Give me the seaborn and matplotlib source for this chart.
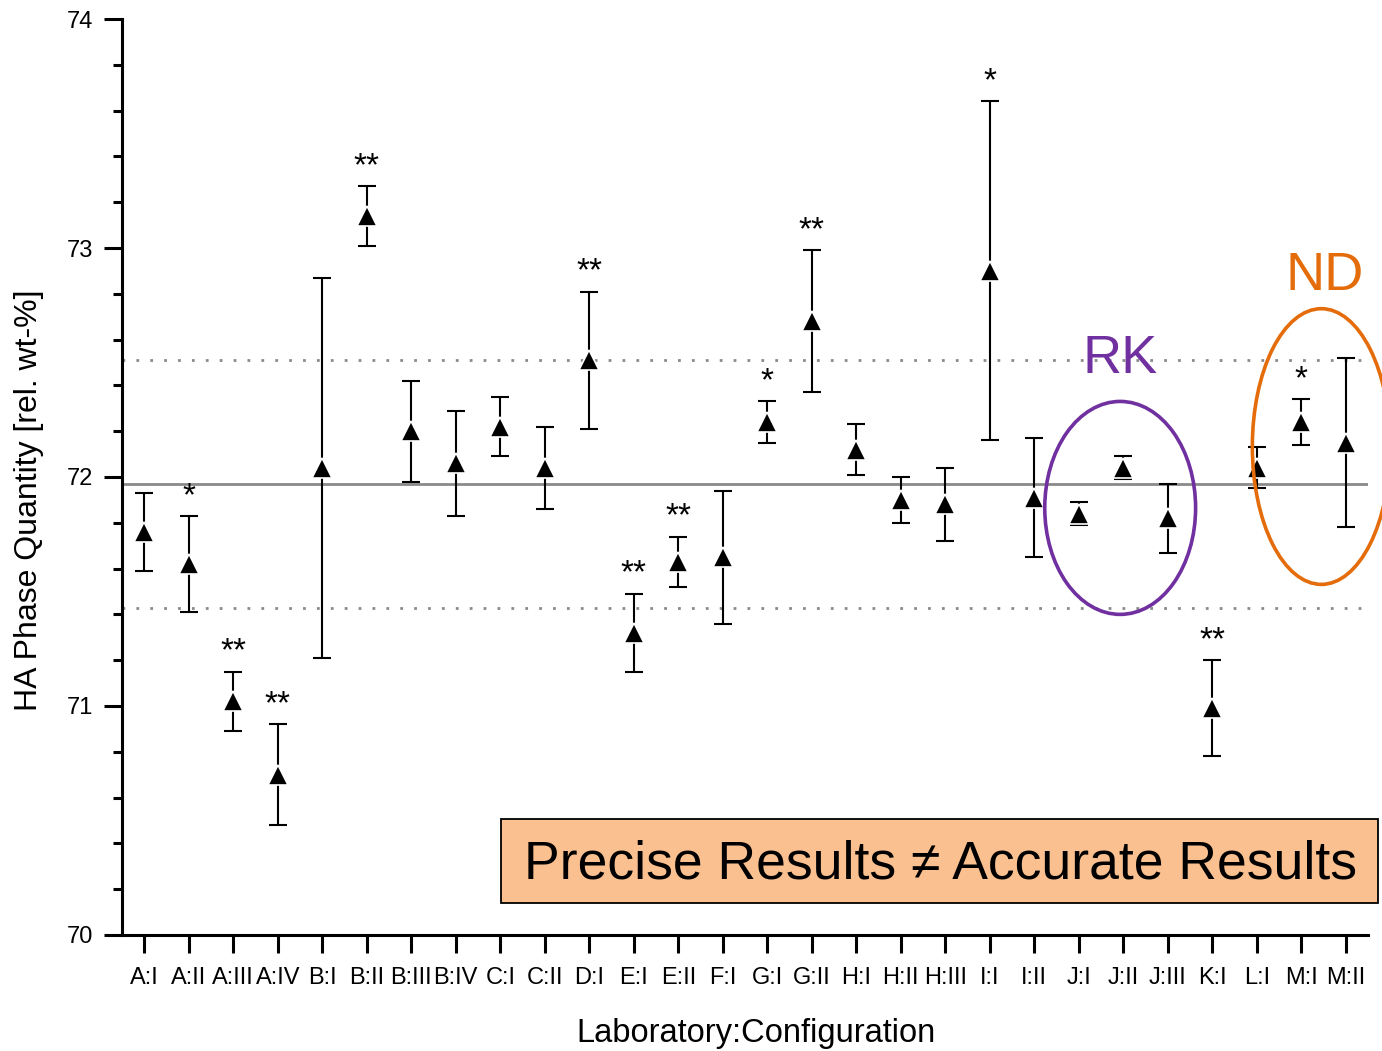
import numpy as np
import pandas as pd
import matplotlib
matplotlib.use("Agg")
import matplotlib.pyplot as plt
from matplotlib.patches import Ellipse, Rectangle
from matplotlib.ticker import MultipleLocator
import seaborn as sns

# Laboratory:Configuration groups
categories = ["A:I", "A:II", "A:III", "A:IV", "B:I", "B:II", "B:III", "B:IV",
              "C:I", "C:II", "D:I", "E:I", "E:II", "F:I", "G:I", "G:II",
              "H:I", "H:II", "H:III", "I:I", "I:II", "J:I", "J:II", "J:III",
              "K:I", "L:I", "M:I", "M:II"]

# HA phase quantity [rel. wt-%] and its uncertainty
ha_values = [71.76, 71.62, 71.02, 70.70, 72.04, 73.14, 72.20, 72.06,
             72.22, 72.04, 72.51, 71.32, 71.63, 71.65, 72.24, 72.68,
             72.12, 71.90, 71.88, 72.90, 71.91, 71.84, 72.04, 71.82,
             70.99, 72.04, 72.24, 72.15]
ha_errors = [0.17, 0.21, 0.13, 0.22, 0.83, 0.13, 0.22, 0.23,
             0.13, 0.18, 0.30, 0.17, 0.11, 0.29, 0.09, 0.31,
             0.11, 0.10, 0.16, 0.74, 0.26, 0.05, 0.05, 0.15,
             0.21, 0.09, 0.10, 0.37]

# significance flags
significance = ["", "*", "**", "**", "", "**", "", "",
                "", "", "**", "**", "**", "", "*", "**",
                "", "", "", "*", "", "", "", "",
                "**", "", "*", ""]

# consensus mean and its band
consensus_mean = 71.97
consensus_low = 71.43
consensus_high = 72.51

df = pd.DataFrame({"config": categories, "value": ha_values, "err": ha_errors})

sns.set_theme(style="ticks", rc={
    "axes.edgecolor": "black", "xtick.color": "black", "ytick.color": "black",
    "text.color": "black", "axes.labelcolor": "black",
})
plt.rcParams["font.family"] = ["Liberation Sans", "DejaVu Sans"]

fig = plt.figure(figsize=(13.82, 10.51), dpi=100)
ax = fig.add_axes([0.0883, 0.1104, 0.9016, 0.8715])

# reference lines
ax.axhline(consensus_mean, color="#8a8a8a", lw=2.0, zorder=1)
for yv in (consensus_low, consensus_high):
    ax.axhline(yv, color="#8a8a8a", lw=2.0, ls=(0, (1, 4)), zorder=1)

xpos = np.arange(len(categories))
ax.errorbar(xpos, df["value"], yerr=df["err"], fmt="none", ecolor="black",
            elinewidth=1.5, capsize=6.5, capthick=1.5, zorder=3)

sns.pointplot(data=df, x="config", y="value", order=categories, errorbar=None,
              linestyle="none", markers="^", color="black", ax=ax,
              markersize=14, markeredgecolor="white", markeredgewidth=1.2,
              zorder=4)

# significance stars above each upper error bar
for i, (v, e, s) in enumerate(zip(ha_values, ha_errors, significance)):
    if s:
        ax.annotate(s, xy=(i, v + e), xytext=(0, 8), textcoords="offset points",
                    ha="center", va="baseline", fontsize=24)

ax.set_xlim(-0.5, len(categories) - 0.5)
ax.set_ylim(70, 74)
ax.set_yticks([70, 71, 72, 73, 74])
ax.yaxis.set_minor_locator(MultipleLocator(0.2))

ax.tick_params(axis="y", which="major", length=13, width=2.2, pad=8, labelsize=17)
ax.tick_params(axis="y", which="minor", length=6.5, width=2.2)
ax.tick_params(axis="x", which="major", length=13, width=2.2, pad=10, labelsize=17)

sns.despine(ax=ax)
for side in ("left", "bottom"):
    ax.spines[side].set_linewidth(2.2)
    ax.spines[side].set_color("black")

ax.set_xlabel("Laboratory:Configuration", fontsize=23.5)
ax.xaxis.set_label_coords(0.509, -0.0906)
ax.set_ylabel("HA Phase Quantity [rel. wt-%]", fontsize=23)
ax.yaxis.set_label_coords(-0.0626, 0.475)

# highlighted groups
purple = "#7030A0"
orange = "#E46C0A"
ax.add_patch(Ellipse((21.93, 71.865), 3.39, 0.93, fill=False, edgecolor=purple,
                     lw=2.6, clip_on=False, zorder=5))
ax.add_patch(Ellipse((26.45, 72.133), 3.10, 1.204, fill=False, edgecolor=orange,
                     lw=2.6, clip_on=False, zorder=5))
ax.text(21.93, 72.454, "RK", color=purple, fontsize=39, ha="center", va="baseline")
ax.text(26.52, 72.817, "ND", color=orange, fontsize=39, ha="center", va="baseline")

# message box
fig.add_artist(Rectangle((0.3625, 0.1408), 0.6346, 0.0799, transform=fig.transFigure,
                         facecolor="#FAC090", edgecolor="black", lw=1.3, zorder=6))
fig.text(0.6805, 0.1646, "Precise Results \u2260 Accurate Results", fontsize=38.5,
         ha="center", va="baseline", zorder=7)

fig.savefig("out.png", dpi=100)
